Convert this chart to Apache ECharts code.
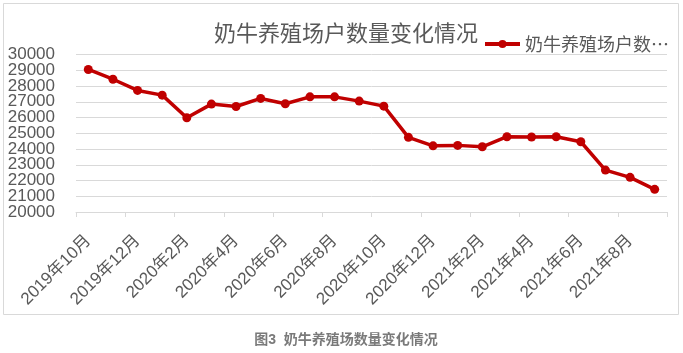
<!DOCTYPE html>
<html>
<head>
<meta charset="utf-8">
<script src="https://cdn.jsdelivr.net/npm/echarts@6/dist/echarts.min.js"></script>
<style>
  html, body { margin: 0; padding: 0; background: #fff; }
  #chart { width: 683px; height: 353px; }
</style>
</head>
<body>
<div id="chart"></div>
<script>
// 月份
var months = [
  '2019年10月', '2019年11月', '2019年12月',
  '2020年1月', '2020年2月', '2020年3月', '2020年4月', '2020年5月', '2020年6月',
  '2020年7月', '2020年8月', '2020年9月', '2020年10月', '2020年11月', '2020年12月',
  '2021年1月', '2021年2月', '2021年3月', '2021年4月', '2021年5月', '2021年6月',
  '2021年7月', '2021年8月', '2021年9月'
];
// 奶牛养殖场户数量
var farmCounts = [
  29050, 28430, 27720, 27420, 25980, 26850, 26700, 27210, 26870, 27310, 27310, 27040,
  26720, 24740, 24200, 24230, 24140, 24780, 24760, 24780, 24460, 22660, 22200, 21440
];
var yMin = 20000, yMax = 30000, yStep = 1000;
// 与首尾刻度紧挨的两个标签，单独放在第二根轴上，免得被重叠检测隐藏
var yNearEnds = [21000, 29000];

var chart = echarts.init(document.getElementById('chart'));
var font = '"Liberation Sans", "Noto Sans CJK SC", sans-serif';
var cjkFont = '"Noto Sans CJK SC", sans-serif';

var yLabelStyle = { color: '#595959', fontSize: 17, fontFamily: font, margin: 21 };

var option = {
  backgroundColor: '#fff',
  textStyle: { fontFamily: font },
  title: [
    {
      text: '奶牛养殖场户数量变化情况',
      left: 341, top: 19, textAlign: 'center',
      textStyle: { color: '#595959', fontSize: 22, fontWeight: 'normal', fontFamily: font }
    },
    {
      text: '图3  奶牛养殖场数量变化情况',
      left: 341, top: 328, textAlign: 'center',
      textStyle: { color: '#7a7a7a', fontSize: 14, fontWeight: 'bold', fontFamily: font }
    }
  ],
  graphic: [
    {
      type: 'rect',
      shape: { x: 3.5, y: 3.5, width: 675, height: 311 },
      style: { fill: 'none', stroke: '#d9d9d9', lineWidth: 1 },
      silent: true
    }
  ],
  legend: {
    left: 478, top: 30,
    itemWidth: 35, itemHeight: 10, itemGap: 4,
    lineStyle: { width: 4 },
    formatter: function () { return '奶牛养殖场户数…'; },
    textStyle: {
      color: '#595959', fontSize: 18, fontFamily: cjkFont,
      padding: [14, 0, 0, 0]
    },
    data: ['奶牛养殖场户数量']
  },
  grid: { left: 76, right: 16, top: 54.5, bottom: 141 },
  xAxis: {
    type: 'category',
    data: months,
    boundaryGap: true,
    axisLine: { lineStyle: { color: '#d9d9d9', width: 1 } },
    axisTick: { show: true, interval: 1, length: 5, lineStyle: { color: '#d9d9d9' } },
    axisLabel: {
      interval: 1, rotate: 45, margin: 26,
      color: '#595959', fontSize: 17, fontFamily: font
    },
    splitLine: { show: false }
  },
  yAxis: [
    {
      type: 'value',
      min: yMin, max: yMax, interval: yStep,
      axisLine: { show: false },
      axisTick: { show: false },
      axisLabel: Object.assign({}, yLabelStyle, {
        showMinLabel: true, showMaxLabel: true,
        formatter: function (v) { return yNearEnds.indexOf(v) >= 0 ? '' : String(v); }
      }),
      splitLine: { lineStyle: { color: '#d9d9d9', width: 1 } }
    },
    {
      type: 'value', position: 'left',
      min: yMin, max: yMax, interval: yStep,
      axisLine: { show: false },
      axisTick: { show: false },
      axisLabel: Object.assign({}, yLabelStyle, {
        showMinLabel: true, showMaxLabel: true,
        formatter: function (v) { return yNearEnds.indexOf(v) >= 0 ? String(v) : ''; }
      }),
      splitLine: { show: false }
    }
  ],
  series: [
    {
      name: '奶牛养殖场户数量',
      type: 'line',
      data: farmCounts,
      symbol: 'circle',
      symbolSize: 9,
      lineStyle: { color: '#c00000', width: 3.5 },
      itemStyle: { color: '#c00000' },
      animation: false
    }
  ]
};

chart.setOption(option);
</script>
</body>
</html>
